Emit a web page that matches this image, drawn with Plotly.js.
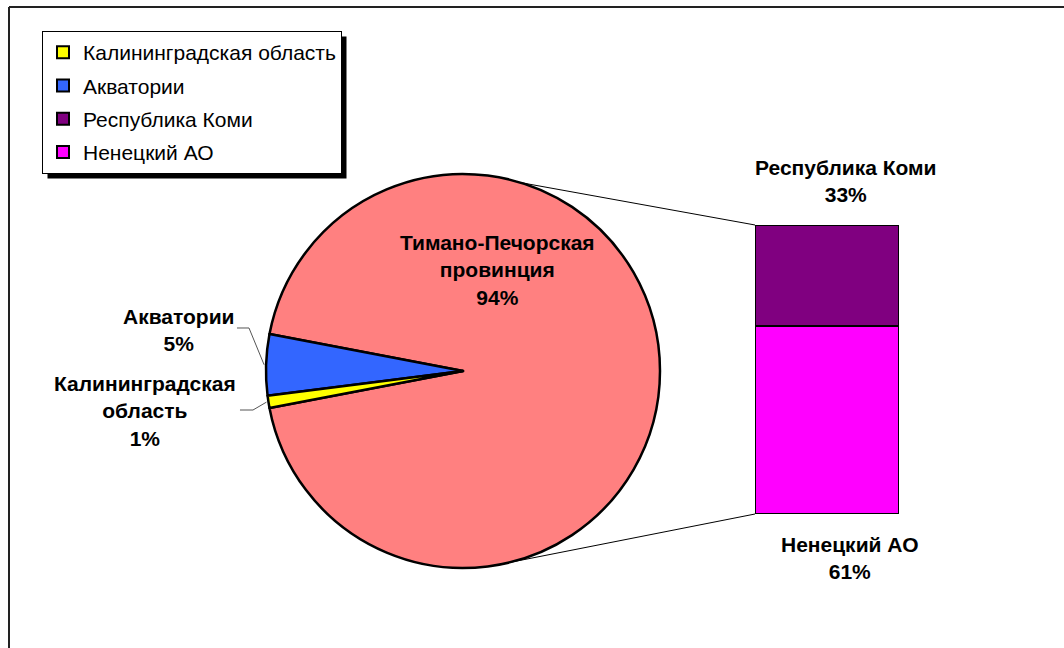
<!DOCTYPE html>
<html>
<head>
<meta charset="utf-8">
<script src="https://cdn.plot.ly/plotly-3.0.1.min.js"></script>
<style>
html, body { margin: 0; padding: 0; background: #ffffff; }
#chart { width: 1064px; height: 648px; }
</style>
</head>
<body>
<div id="chart"></div>
<script>
// ---------------- data ----------------
const pieLabels = ['Тимано-Печорская провинция', 'Акватории', 'Калининградская область'];
const pieValues = [94, 5, 1];
const pieColors = ['#FF8080', '#3366FF', '#FFFF00'];

const barLabels = ['Ненецкий АО', 'Республика Коми'];   // bottom to top
const barValues = [61, 33];
const barColors = ['#FF00FF', '#800080'];

const legendOrder = ['Калининградская область', 'Акватории', 'Республика Коми', 'Ненецкий АО'];

// ---------------- layout geometry (pixels) ----------------
const W = 1064, H = 648;
const px = x => x / W;
const py = y => 1 - y / H;
const PIE = { cx: 463, cy: 371, r: 197 };
const BAR = { x0: 755, x1: 899, top: 225, bottom: 514 };
const FONT = 'Liberation Sans, Arial, sans-serif';

const pieTotal = pieValues.reduce((a, b) => a + b, 0);
const barTotal = barValues.reduce((a, b) => a + b, 0);

// main slice centred on the right (east); rotation in Plotly = clockwise from 12 o'clock
const bigDeg = 360 * pieValues[0] / pieTotal;
const rotation = 90 - bigDeg / 2;

// math angle (deg, CCW from east) of slice mid-points
function sliceMidMath(i) {
  let start = bigDeg / 2;  // end of big slice going CCW
  for (let k = 1; k < i; k++) start += 360 * pieValues[k] / pieTotal;
  return start + 180 * pieValues[i] / pieTotal;
}
function piePoint(deg, rr) {
  const a = deg * Math.PI / 180;
  const r = rr === undefined ? PIE.r : rr;
  return [PIE.cx + r * Math.cos(a), PIE.cy - r * Math.sin(a)];
}

// ---------------- traces ----------------
const traces = [];
traces.push({
  type: 'pie',
  labels: pieLabels,
  values: pieValues,
  sort: false,
  direction: 'counterclockwise',
  rotation: rotation,
  marker: { colors: pieColors, line: { color: '#000000', width: 2.5 } },
  textinfo: 'none',
  hoverinfo: 'label+percent',
  showlegend: false,
  domain: {
    x: [px(PIE.cx - PIE.r), px(PIE.cx + PIE.r)],
    y: [py(PIE.cy + PIE.r), py(PIE.cy - PIE.r)]
  }
});

// legend entries for the small pie slices (placed on a hidden axis, out of view)
for (let i = 1; i < pieLabels.length; i++) {
  traces.push({
    type: 'bar', x: [0], y: [1], name: pieLabels[i],
    marker: { color: pieColors[i], line: { color: '#000000', width: 2 } },
    legendgroup: 'g' + i,
    legendrank: legendOrder.indexOf(pieLabels[i]) + 1,
    xaxis: 'x2', yaxis: 'y2', hoverinfo: 'skip', showlegend: true
  });
}
// stacked bar of the main slice
for (let j = 0; j < barLabels.length; j++) {
  traces.push({
    type: 'bar', x: [0], y: [barValues[j]], name: barLabels[j], width: [1],
    marker: { color: barColors[j], line: { color: '#000000', width: 2 } },
    legendgroup: 'b' + j,
    legendrank: legendOrder.indexOf(barLabels[j]) + 1,
    xaxis: 'x', yaxis: 'y', hoverinfo: 'name+y', showlegend: true
  });
}

// ---------------- annotations (data labels) ----------------
const pieLabelPos = [ [497, 270], [178, 330], [145, 411] ];
const barLabelPos = [ [850, 558], [845, 181] ];
const annotations = [];
pieLabels.forEach((lab, i) => {
  annotations.push({
    xref: 'paper', yref: 'paper', x: px(pieLabelPos[i][0]), y: py(pieLabelPos[i][1]),
    xanchor: 'center', yanchor: 'middle', showarrow: false, align: 'center',
    text: lab.replace(' ', '<br>') + '<br>' + Math.round(100 * pieValues[i] / pieTotal) + '%',
    font: { family: FONT, size: 21, color: '#000000', weight: 'bold' }
  });
});
barLabels.forEach((lab, j) => {
  annotations.push({
    xref: 'paper', yref: 'paper', x: px(barLabelPos[j][0]), y: py(barLabelPos[j][1]),
    xanchor: 'center', yanchor: 'middle', showarrow: false, align: 'center',
    text: lab + '<br>' + Math.round(100 * barValues[j] / pieTotal) + '%',
    font: { family: FONT, size: 21, color: '#000000', weight: 'bold' }
  });
});

// ---------------- shapes: frame, connector lines, leader lines ----------------
function pathP(points) {
  return points.map((p, k) => (k ? 'L' : 'M') + px(p[0]).toFixed(5) + ',' + py(p[1]).toFixed(5)).join(' ');
}
const shapes = [];
// chart area frame (top and left edges visible)
shapes.push({ type: 'line', xref: 'paper', yref: 'paper', x0: px(9), x1: px(1064), y0: py(7), y1: py(7), line: { color: '#222222', width: 2 } });
shapes.push({ type: 'line', xref: 'paper', yref: 'paper', x0: px(9), x1: px(9), y0: py(7), y1: py(648), line: { color: '#222222', width: 2 } });
// series lines from pie to bar
const topPt = piePoint(73), botPt = piePoint(-81);
shapes.push({ type: 'path', xref: 'paper', yref: 'paper', path: pathP([topPt, [BAR.x0, BAR.top]]), line: { color: '#000000', width: 1 } });
shapes.push({ type: 'path', xref: 'paper', yref: 'paper', path: pathP([botPt, [BAR.x0, BAR.bottom]]), line: { color: '#000000', width: 1 } });
// leader lines for small slices
const leaderStart = { 1: [[237, 328], [249, 328]], 2: [[240, 410], [253, 410]] };
[1, 2].forEach(i => {
  const end = piePoint(sliceMidMath(i), PIE.r + 2);
  shapes.push({ type: 'path', xref: 'paper', yref: 'paper', path: pathP(leaderStart[i].concat([end])), line: { color: '#555555', width: 1 } });
});

const layout = {
  width: W, height: H, autosize: false,
  margin: { l: 0, r: 0, t: 0, b: 0, pad: 0 },
  paper_bgcolor: '#ffffff', plot_bgcolor: 'rgba(0,0,0,0)',
  barmode: 'stack', bargap: 0,
  xaxis: { domain: [px(BAR.x0), px(BAR.x1)], range: [-0.5, 0.5], visible: false, fixedrange: true },
  yaxis: { domain: [py(BAR.bottom), py(BAR.top)], range: [0, barTotal], visible: false, fixedrange: true },
  // hidden axis for legend-only entries: their bars fall outside the range
  xaxis2: { domain: [0, 0.01], range: [5, 6], visible: false, fixedrange: true, anchor: 'y2' },
  yaxis2: { domain: [0, 0.01], range: [5, 6], visible: false, fixedrange: true, anchor: 'x2' },
  showlegend: true,
  legend: {
    x: px(42), y: py(31), xanchor: 'left', yanchor: 'top',
    bgcolor: '#ffffff', bordercolor: '#000000', borderwidth: 1,
    traceorder: 'grouped', tracegroupgap: 3,
    font: { family: FONT, size: 21, color: '#000000' },
    itemclick: false, itemdoubleclick: false
  },
  annotations: annotations,
  shapes: shapes,
  font: { family: FONT }
};

Plotly.newPlot('chart', traces, layout, { displayModeBar: false, staticPlot: true }).then(gd => {
  const bg = gd.querySelector('.legend .bg');
  if (!bg) return;
  const r = bg.getBoundingClientRect();
  const g = gd.getBoundingClientRect();
  const x0 = r.left - g.left, y0 = r.top - g.top, x1 = r.right - g.left, y1 = r.bottom - g.top;
  const shadow = { type: 'rect', xref: 'paper', yref: 'paper', layer: 'below',
    x0: px(x0 + 5), x1: px(x1 + 5), y0: py(y1 + 5), y1: py(y0 + 5),
    fillcolor: '#000000', line: { width: 0 } };
  return Plotly.relayout(gd, { shapes: shapes.concat([shadow]) });
});
</script>
</body>
</html>
